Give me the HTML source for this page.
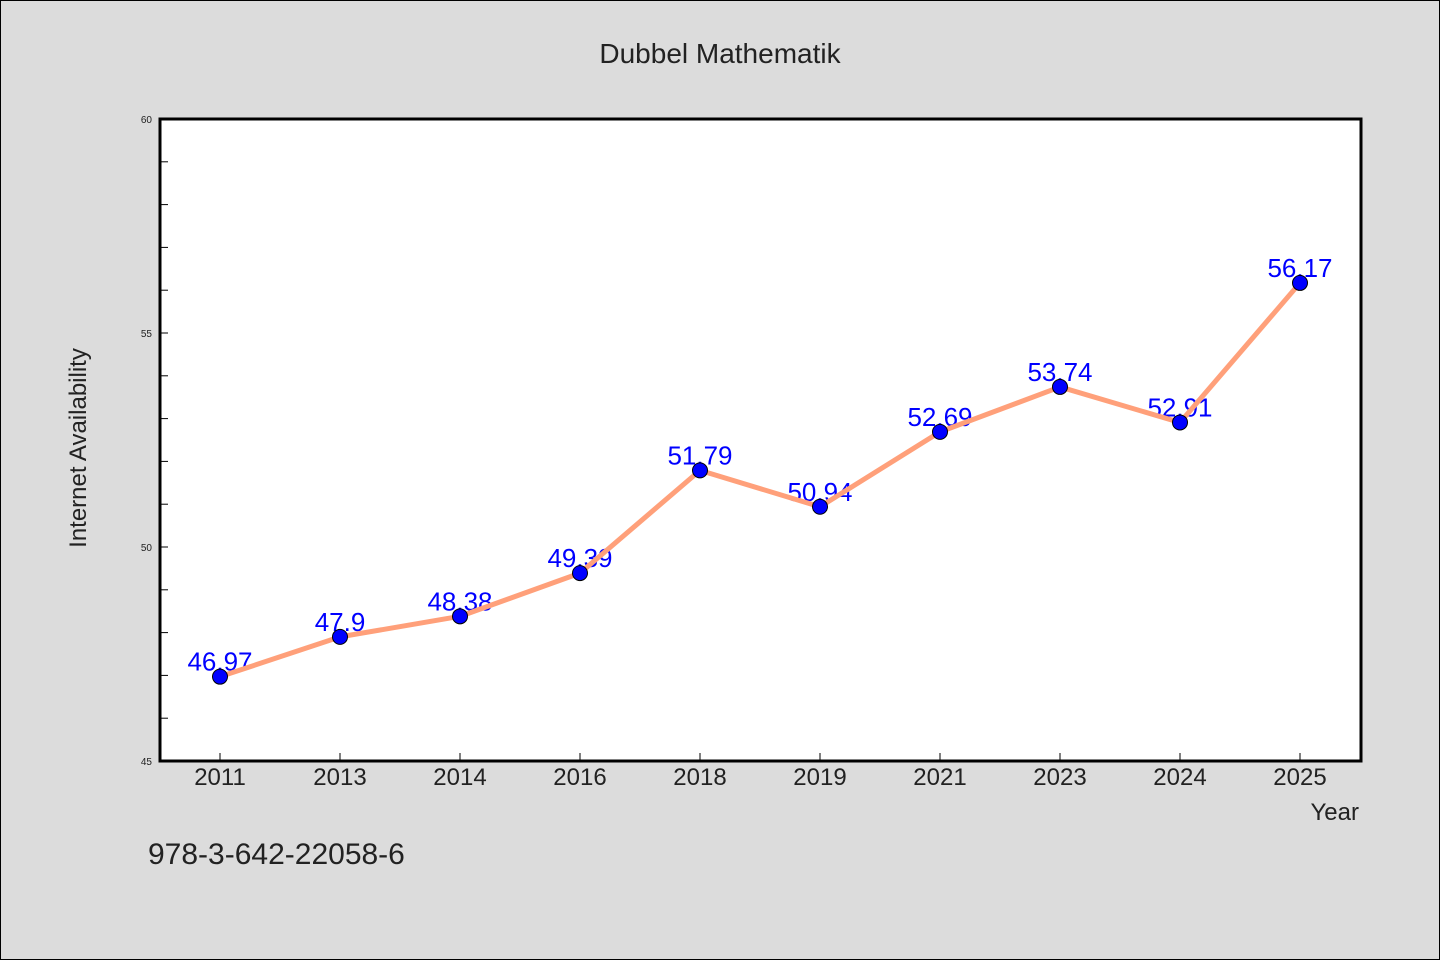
<!DOCTYPE html>
<html><head><meta charset="utf-8"><style>
body{margin:0;background:#dcdcdc;}
svg{display:block;font-family:"WenQuanYi Zen Hei","Liberation Sans",sans-serif;}
</style></head><body>
<svg width="1440" height="960" id="c">
<rect x="0.5" y="0.5" width="1439" height="959" fill="#dcdcdc" stroke="#000"/>
<text x="720" y="63" font-size="28" text-anchor="middle" fill="#222">Dubbel Mathematik</text>
<rect x="160" y="119" width="1201" height="642" fill="#fff"/>
<g id="g"></g>
<rect x="160" y="119" width="1201" height="642" fill="none" stroke="#000" stroke-width="3"/>
<text x="86" y="448" font-size="24" text-anchor="middle" fill="#222" transform="rotate(-90 86 448)">Internet Availability</text>
<text x="1359" y="820" font-size="24" text-anchor="end" fill="#222">Year</text>
<text x="148" y="864" font-size="30" fill="#222">978-3-642-22058-6</text>
</svg>
<script>
const categories=["2011","2013","2014","2016","2018","2019","2021","2023","2024","2025"];
const values=[46.97,47.9,48.38,49.39,51.79,50.94,52.69,53.74,52.91,56.17];
const valueLabels=["46.97","47.9","48.38","49.39","51.79","50.94","52.69","53.74","52.91","56.17"];
const yTicks=[45,50,55,60];
const yMin=45,yMax=60;
const NS="http://www.w3.org/2000/svg";
const g=document.getElementById('g');
const X=i=>220+i*120;
const Y=v=>761-(v-yMin)/(yMax-yMin)*642;
function mk(t,a){const e=document.createElementNS(NS,t);for(const k in a)e.setAttribute(k,a[k]);g.appendChild(e);return e;}
for(let v=yMin+1;v<yMax;v++){
  const t=mk('line',{x1:160,x2:168,y1:Y(v),y2:Y(v),stroke:'#000','stroke-width':1});
  
  
}
yTicks.forEach(v=>{
  const t=mk('text',{x:152,y:Y(v)+4,'font-size':10,'text-anchor':'end',fill:'#222'});
  t.textContent=v;
  
  
});
categories.forEach((c,i)=>{
  const t=mk('line',{x1:X(i),x2:X(i),y1:753,y2:761,stroke:'#000','stroke-width':1});
  
  
  const l=mk('text',{x:X(i),y:785,'font-size':24,'text-anchor':'middle',fill:'#222'});
  l.textContent=c;
  
  
});
valueLabels.forEach((s,i)=>{
  const l=mk('text',{x:X(i),y:Y(values[i])-6,'font-size':26,'text-anchor':'middle',fill:'#0000ff'});
  l.textContent=s;
  
  
});
const p=mk('polyline',{points:values.map((v,i)=>X(i)+','+Y(v)).join(' '),fill:'none',stroke:'#ffa07a','stroke-width':5,'stroke-linejoin':'round'});


values.forEach((v,i)=>{
  const c=mk('circle',{cx:X(i),cy:Y(v),r:7.5,fill:'#0000ff',stroke:'#000','stroke-width':1});
  
  
});
</script>
</body></html>
